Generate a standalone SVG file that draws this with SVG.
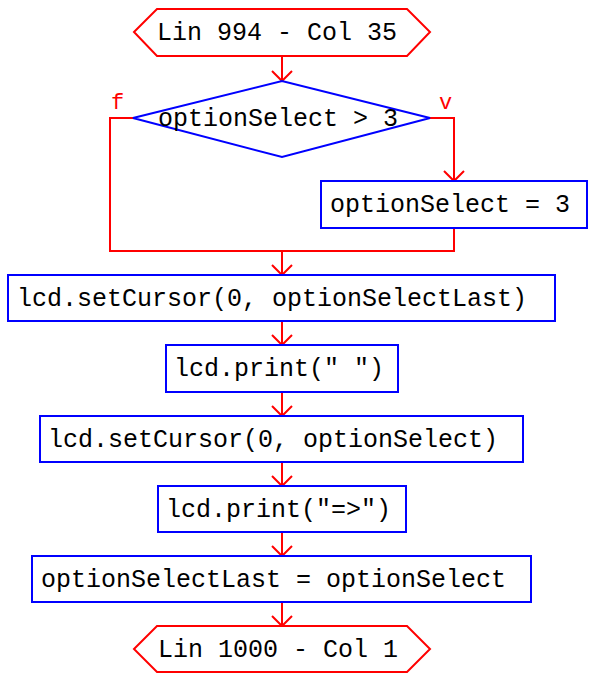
<svg xmlns="http://www.w3.org/2000/svg" width="599" height="682" viewBox="0 0 599 682">
<style>
.t{font-family:"Liberation Mono","Courier New",monospace;font-size:25px;fill:#000}
.lbl{font-family:"Liberation Mono","Courier New",monospace;font-size:22px;fill:#ff0000}
.box{fill:#fff;stroke:#0000ff;stroke-width:2}
.term{fill:#fff;stroke:#ff0000;stroke-width:2}
.c{fill:none;stroke:#ff0000;stroke-width:2}
</style>
<defs>
<marker id="ah" markerUnits="userSpaceOnUse" markerWidth="24" markerHeight="24" viewBox="-12 -12 24 24" refX="0" refY="0" orient="auto" overflow="visible">
<path d="M-10,-10 L0,0 L-10,10" fill="none" stroke="#ff0000" stroke-width="2"/>
</marker>
</defs>
<g id="connectors">
<path class="c" d="M282,56 V81" marker-end="url(#ah)"/>
<path class="c" d="M430,118 H454 V181" marker-end="url(#ah)"/>
<path class="c" d="M133,118 H110 V251 H454 V228"/>
<path class="c" d="M282,251 V275" marker-end="url(#ah)"/>
<path class="c" d="M282,321 V345" marker-end="url(#ah)"/>
<path class="c" d="M282,392 V416" marker-end="url(#ah)"/>
<path class="c" d="M282,462 V486" marker-end="url(#ah)"/>
<path class="c" d="M282,532 V556" marker-end="url(#ah)"/>
<path class="c" d="M282,602 V626" marker-end="url(#ah)"/>
<text class="lbl" x="111" y="109">f</text>
<text class="lbl" x="439" y="109">v</text>
</g>
<g id="start">
<polygon class="term" points="134,32 157,9 407,9 430,32 407,56 157,56"/>
<text class="t" x="157" y="40">Lin 994 - Col 35</text>
</g>
<g id="decision">
<polygon class="box" points="133,118 282,81 430,118 282,157"/>
<text class="t" x="158" y="126">optionSelect &gt; 3</text>
</g>
<g id="assign3">
<rect class="box" x="321" y="181" width="266" height="47"/>
<text class="t" x="330" y="212">optionSelect = 3</text>
</g>
<g id="setCursorLast">
<rect class="box" x="8" y="275" width="547" height="46"/>
<text class="t" x="17" y="306">lcd.setCursor(0, optionSelectLast)</text>
</g>
<g id="printBlank">
<rect class="box" x="166" y="345" width="232" height="47"/>
<text class="t" x="174" y="376">lcd.print(" ")</text>
</g>
<g id="setCursor">
<rect class="box" x="40" y="416" width="483" height="46"/>
<text class="t" x="48" y="447">lcd.setCursor(0, optionSelect)</text>
</g>
<g id="printArrow">
<rect class="box" x="158" y="486" width="248" height="46"/>
<text class="t" x="166" y="517">lcd.print("=&gt;")</text>
</g>
<g id="assignLast">
<rect class="box" x="32" y="556" width="499" height="46"/>
<text class="t" x="41" y="587">optionSelectLast = optionSelect</text>
</g>
<g id="end">
<polygon class="term" points="134,649 157,626 407,626 430,649 407,672 157,672"/>
<text class="t" x="158" y="657">Lin 1000 - Col 1</text>
</g>
</svg>
